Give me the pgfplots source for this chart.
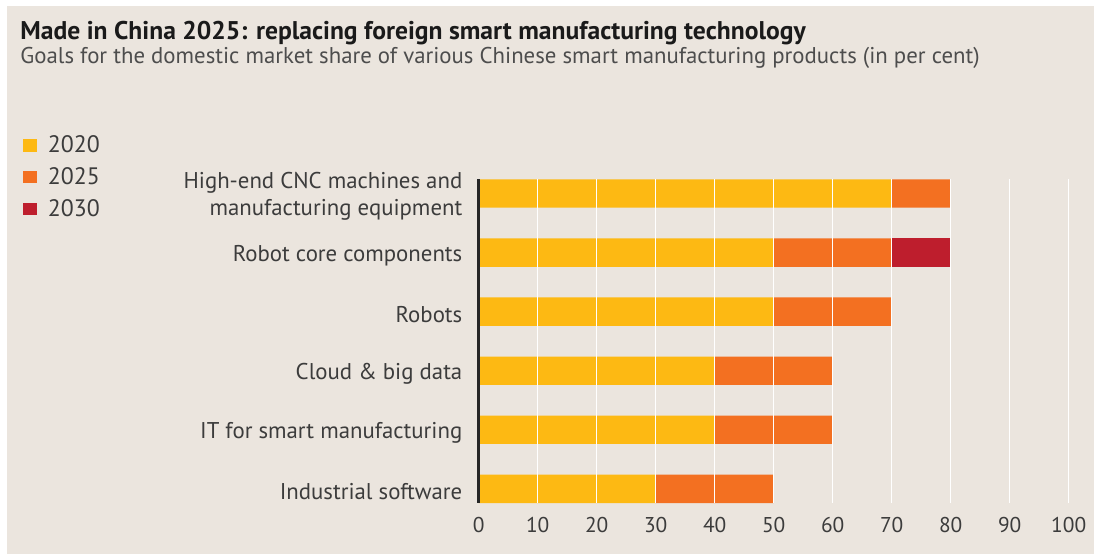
\documentclass[border=0pt]{standalone}
\usepackage{fontspec}
\setmainfont{PT Sans}
\usepackage{pgfplots}
\pgfplotsset{compat=1.18}

\definecolor{bg}{RGB}{235,229,222}
\definecolor{c2020}{RGB}{253,185,19}
\definecolor{c2025}{RGB}{243,112,33}
\definecolor{c2030}{RGB}{190,30,45}
\definecolor{titlec}{RGB}{26,26,26}
\definecolor{subc}{RGB}{77,77,77}
\definecolor{labc}{RGB}{60,60,60}

\begin{document}
\begin{tikzpicture}
% background with thin white margin top/left
\fill[white] (0,0) rectangle (547pt,-277pt);
\fill[bg] (3.5pt,-3pt) rectangle (547pt,-277pt);
\useasboundingbox (0,0) rectangle (547pt,-277pt);

\node[anchor=base west, inner sep=0pt, text=titlec, font=\fontsize{12.8}{14}\selectfont\bfseries]
  at (10pt,-19.5pt) {Made in China 2025: replacing foreign smart manufacturing technology};
\node[anchor=base west, inner sep=0pt, text=subc, font=\fontsize{11.4}{13}\selectfont]
  at (10pt,-31.5pt) {Goals for the domestic market share of various Chinese smart manufacturing products (in per cent)};

\begin{axis}[
    at={(239.35pt,-251.5pt)}, anchor=south west,
    scale only axis, width=295pt, height=161.85pt,
    xbar stacked, bar width=14.2pt,
    xmin=0, xmax=100, ymin=-0.24, ymax=5.24, y dir=reverse,
    xtick={0,10,...,100}, ytick={0,1,2,3,4,5},
    yticklabels={{High-end CNC machines and\\manufacturing equipment}, Robot core components, Robots, Cloud \& big data, IT for smart manufacturing, Industrial software},
    major tick length=0pt,
    separate axis lines,
    axis x line*=bottom, axis y line*=left,
    x axis line style={draw=none},
    y axis line style={-, black!85, line width=1.2pt},
    xmajorgrids, grid style={white, line width=0.6pt},
    axis on top,
    yticklabel style={anchor=east, inner sep=0pt, xshift=-8pt, yshift=-1.5pt, align=right,
      text=labc, font=\fontsize{11.4}{13.3}\selectfont},
    xticklabel style={anchor=north, inner sep=0pt, yshift=-7pt,
      text=labc, font=\fontsize{10.7}{12}\selectfont},
    /pgf/number format/assume math mode=true,
    legend style={at={(-0.7729,1.134)}, anchor=north west, draw=none, fill=none,
      inner sep=0pt, outer sep=0pt, row sep=5.95pt, text=labc,
      font=\fontsize{11.9}{13}\selectfont,
      nodes={inner sep=0pt},
      /tikz/every odd column/.append style={column sep=5.6pt}},
    legend cell align=left,
    legend image code/.code={\fill[#1] (0pt,-2.85pt) rectangle (7pt,3.5pt);},
]
\addplot[fill=c2020, draw=none] coordinates {(70,0) (50,1) (50,2) (40,3) (40,4) (30,5)};
\addplot[fill=c2025, draw=none] coordinates {(10,0) (20,1) (20,2) (20,3) (20,4) (20,5)};
\addplot[fill=c2030, draw=none] coordinates {(0,0) (10,1) (0,2) (0,3) (0,4) (0,5)};
\legend{2020,2025,2030}
\end{axis}
\end{tikzpicture}
\end{document}
